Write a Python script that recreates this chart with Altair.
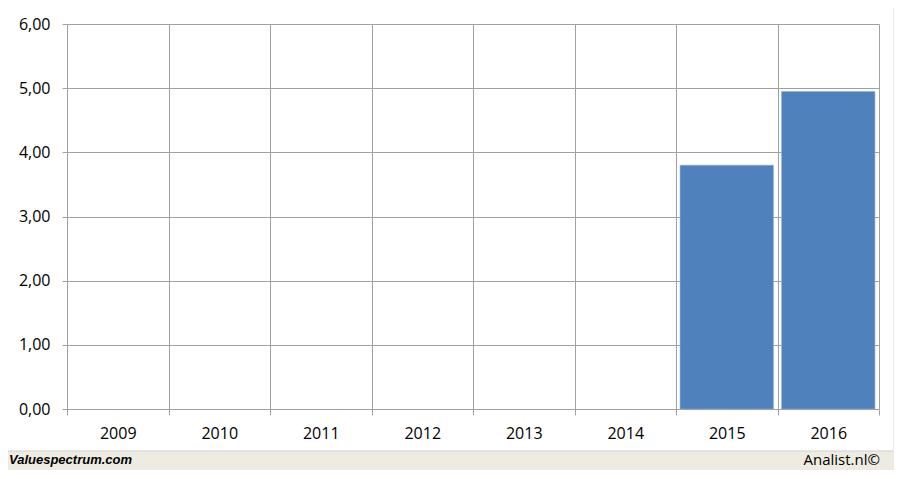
import altair as alt
import pandas as pd

years = ["2009", "2010", "2011", "2012", "2013", "2014", "2015", "2016"]
values = [None, None, None, None, None, None, 3.80, 4.95]

df = pd.DataFrame({"year": years, "value": values})
df_bars = df.dropna()

W, H = 812, 385
FONT = "Open Sans"

x_enc = alt.X(
    "year:N",
    scale=alt.Scale(domain=years, paddingInner=0, paddingOuter=0),
    axis=alt.Axis(
        title=None, labelAngle=0, tickBand="extent", grid=True,
        gridColor="#A0A0A0", tickColor="#A0A0A0", domainColor="#A0A0A0",
        tickSize=6, labelPadding=10, labelFontSize=16, labelFont=FONT,
        labelColor="#000000",
    ),
)
y_enc = alt.Y(
    "value:Q",
    scale=alt.Scale(domain=[0, 6], nice=False),
    axis=alt.Axis(
        title=None, values=[0, 1, 2, 3, 4, 5, 6], grid=True,
        gridColor="#A0A0A0", tickColor="#A0A0A0", domainColor="#A0A0A0",
        tickSize=5, labelPadding=12, labelFontSize=16, labelFont=FONT,
        labelColor="#000000",
        labelExpr="replace(format(datum.value, '.2f'), '.', ',')",
    ),
)

bars = alt.Chart(df_bars).mark_bar(
    color="#4F81BD", width=alt.RelativeBandSize(0.92),
    stroke="#8FB0DA", strokeWidth=0.6,
).encode(x=x_enc, y=y_enc)

one = pd.DataFrame({"a": [0]})
strip = alt.Chart(one).mark_rect(color="#EEECE1").encode(
    x=alt.value(-62), x2=alt.value(W + 20),
    y=alt.value(427), y2=alt.value(450),
)
border = alt.Chart(one).mark_rule(color="#D0D0D0", strokeWidth=1).encode(
    x=alt.value(-62), x2=alt.value(W + 14),
    y=alt.value(427),
)
right_strip = alt.Chart(one).mark_rect(color="#EEECE1").encode(
    x=alt.value(W + 14), x2=alt.value(W + 20),
    y=alt.value(-20), y2=alt.value(450),
)
left_txt = alt.Chart(one).mark_text(
    text="Valuespectrum.com", align="left", baseline="middle",
    font="Liberation Sans", fontSize=13, fontWeight="bold", fontStyle="italic",
    color="#000000",
).encode(x=alt.value(-58), y=alt.value(436))
right_txt = alt.Chart(one).mark_text(
    text="Analist.nl©", align="right", baseline="middle",
    font=FONT, fontSize=15, color="#000000",
).encode(x=alt.value(W + 1), y=alt.value(436))

chart = alt.layer(bars, strip, right_strip, border, left_txt, right_txt).properties(
    width=W, height=H,
    autosize=alt.AutoSizeParams(type="none"),
    padding={"left": 59, "top": 16, "right": 15, "bottom": 61},
    background="#FFFFFF",
).configure_view(stroke=None)

chart.save("out.html", embed_options={"renderer": "svg", "actions": False})
